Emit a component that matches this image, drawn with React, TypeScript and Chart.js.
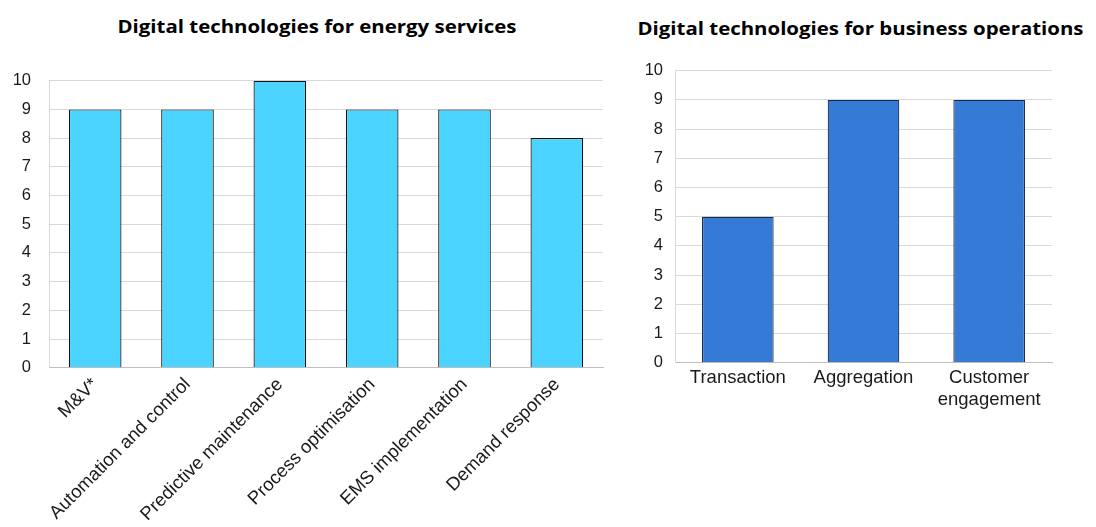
import React, { useEffect, useRef } from "react";
import { Chart, registerables } from "chart.js";

Chart.register(...registerables);

const energyTitle = "Digital technologies for energy services";
const energyCategories = [
  "M&V*",
  "Automation and control",
  "Predictive maintenance",
  "Process optimisation",
  "EMS implementation",
  "Demand response",
];
const energyValues = [9, 9, 10, 9, 9, 8];

const businessTitle = "Digital technologies for business operations";
const businessCategories = ["Transaction", "Aggregation", ["Customer", "engagement"]];
const businessValues = [5, 9, 9];

const yMin = 0;
const yMax = 10;
const yStep = 1;

type PanelProps = {
  labels: any[];
  values: number[];
  fill: string;
  border: string;
  width: number;
  height: number;
  top: number;
  axisWidth: number;
  axisHeight: number;
  right: number;
  tickPad: number;
  rotate: number;
  xFont: any;
  yFont: any;
  xPad: number;
};

function BarPanel(p: PanelProps) {
  const ref = useRef<HTMLCanvasElement | null>(null);
  useEffect(() => {
    if (!ref.current) return;
    const chart = new Chart(ref.current, {
      type: "bar",
      data: {
        labels: p.labels,
        datasets: [
          {
            data: p.values,
            backgroundColor: p.fill,
            borderColor: p.border,
            borderWidth: 1.2,
            categoryPercentage: 1,
            barPercentage: 0.57,
          },
        ],
      },
      options: {
        animation: false,
        responsive: false,
        maintainAspectRatio: false,
        devicePixelRatio: 1,
        layout: { padding: { top: p.top, left: 0, right: p.right, bottom: 0 } },
        plugins: {
          legend: { display: false },
          title: { display: false },
          tooltip: { enabled: false },
        },
        scales: {
          x: {
            grid: { display: false, drawTicks: false },
            border: { display: true, color: "#bfbfbf", width: 1 },
            ticks: {
              color: "#1a1a1a",
              font: p.xFont,
              padding: p.xPad,
              minRotation: p.rotate,
              maxRotation: p.rotate,
              autoSkip: false,
            },
            afterFit: (s: any) => {
              s.height = p.axisHeight;
            },
          },
          y: {
            min: yMin,
            max: yMax,
            grid: { color: "#d9d9d9", lineWidth: 1, drawTicks: false },
            border: { display: true, color: "#d9d9d9", width: 1 },
            ticks: {
              stepSize: yStep,
              color: "#1a1a1a",
              font: p.yFont,
              padding: p.tickPad,
            },
            afterFit: (s: any) => {
              s.width = p.axisWidth;
            },
          },
        },
      },
    } as any);
    return () => chart.destroy();
  }, []);
  return (
    <canvas
      ref={ref}
      width={p.width}
      height={p.height}
      style={{ width: p.width, height: p.height, display: "block" }}
    />
  );
}

const titleStyle: React.CSSProperties = {
  position: "absolute",
  fontFamily: "'Open Sans', Lato, sans-serif",
  fontWeight: 700,
  fontSize: 17,
  lineHeight: "17px",
  color: "#000",
  textAlign: "center",
  whiteSpace: "nowrap",
  transform: "scaleX(1.2)",
  transformOrigin: "50% 50%",
};

export default function App() {
  return (
    <div
      style={{
        position: "absolute",
        left: 0,
        top: 0,
        width: 1096,
        height: 527,
        background: "#fff",
        overflow: "hidden",
      }}
    >
      <div style={{ ...titleStyle, top: 18, left: 17, width: 600 }}>{energyTitle}</div>
      <div style={{ ...titleStyle, top: 20, left: 630, width: 461 }}>{businessTitle}</div>
      <div style={{ position: "absolute", left: 0, top: 0 }}>
        <BarPanel
          labels={energyCategories}
          values={energyValues}
          fill="#4BD4FF"
          border="#111111"
          width={620}
          height={527}
          top={80.7}
          axisWidth={49}
          axisHeight={159.3}
          right={17}
          tickPad={18}
          rotate={45}
          xFont={{ family: "'Liberation Sans', Arial, sans-serif", size: 18.5 }}
          yFont={{ family: "'Liberation Sans', Arial, sans-serif", size: 16.5 }}
          xPad={6}
        />
      </div>
      <div style={{ position: "absolute", left: 620, top: 0 }}>
        <BarPanel
          labels={businessCategories}
          values={businessValues}
          fill="#357AD4"
          border="#1c2a44"
          width={476}
          height={527}
          top={70.7}
          axisWidth={55}
          axisHeight={164.3}
          right={44}
          tickPad={12}
          rotate={0}
          xFont={{ family: "'Liberation Sans', Arial, sans-serif", size: 18.5, lineHeight: 1.19 }}
          yFont={{ family: "'Liberation Sans', Arial, sans-serif", size: 16.5 }}
          xPad={4}
        />
      </div>
    </div>
  );
}
